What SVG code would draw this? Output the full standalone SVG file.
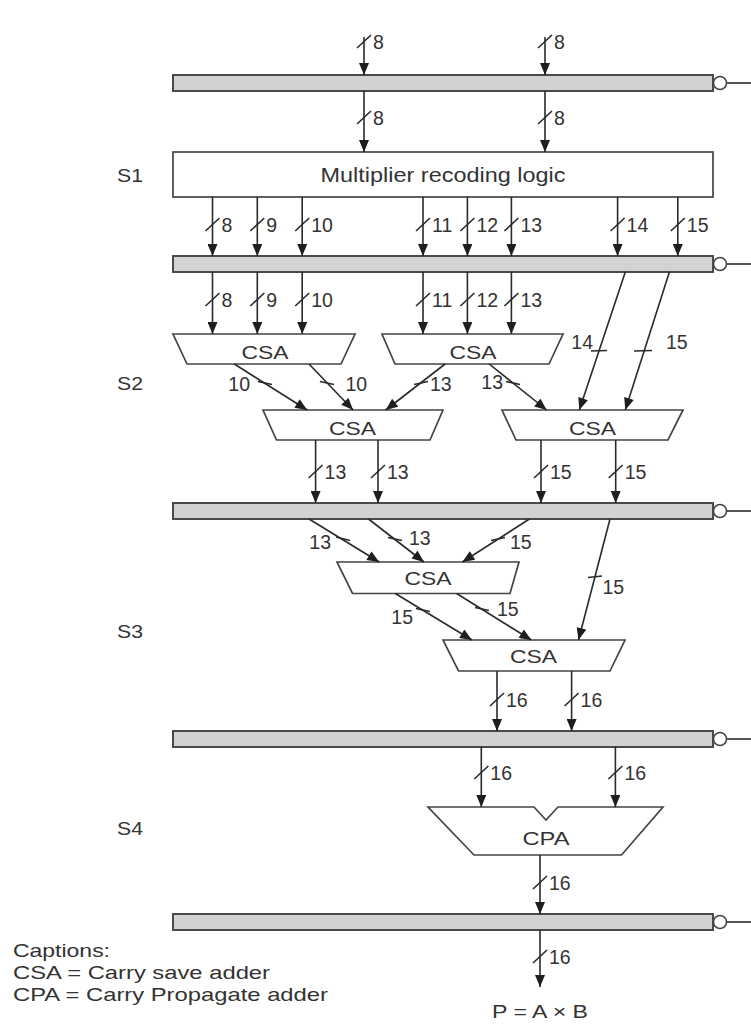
<svg xmlns="http://www.w3.org/2000/svg" width="751" height="1026" viewBox="0 0 751 1026">
<style>
.bar{fill:#d2d2d2;stroke:#4a4a4a;stroke-width:2}
.box{fill:#fff;stroke:#444;stroke-width:1.7}
.ring{fill:#fff;stroke:#444;stroke-width:1.5}
.w{stroke:#2a2a2a;stroke-width:1.6;fill:none}
.a{marker-end:url(#ah)}
.t{font-family:"Liberation Sans",Arial,sans-serif;fill:#333}
.n{font-size:19.5px}
.e{text-anchor:end}
.m{text-anchor:middle;font-size:19px}
</style>
<defs>
<marker id="ah" viewBox="0 0 12 10" refX="12" refY="5" markerWidth="13" markerHeight="10" markerUnits="userSpaceOnUse" orient="auto"><path d="M0,0L12,5L0,10z" fill="#1e1e1e"/></marker>
</defs>
<rect width="751" height="1026" fill="#fff"/>

<g id="reg1"><rect class="bar" x="173" y="75" width="540" height="16"/><line class="w" x1="726.5" y1="83" x2="751" y2="83"/><circle class="ring" cx="720" cy="83" r="6.5"/></g>
<g id="reg2"><rect class="bar" x="173" y="256" width="540" height="16"/><line class="w" x1="726.5" y1="264" x2="751" y2="264"/><circle class="ring" cx="720" cy="264" r="6.5"/></g>
<g id="reg3"><rect class="bar" x="173" y="503" width="540" height="16"/><line class="w" x1="726.5" y1="511" x2="751" y2="511"/><circle class="ring" cx="720" cy="511" r="6.5"/></g>
<g id="reg4"><rect class="bar" x="173" y="731" width="540" height="16"/><line class="w" x1="726.5" y1="739" x2="751" y2="739"/><circle class="ring" cx="720" cy="739" r="6.5"/></g>
<g id="reg5"><rect class="bar" x="173" y="914" width="540" height="16"/><line class="w" x1="726.5" y1="922" x2="751" y2="922"/><circle class="ring" cx="720" cy="922" r="6.5"/></g>

<g id="recoder"><rect class="box" x="173" y="152" width="540" height="45"/><text class="t" x="443" y="182" font-size="21" text-anchor="middle" textLength="245" lengthAdjust="spacingAndGlyphs">Multiplier recoding logic</text></g>

<g id="csa1"><polygon class="box" points="173,334 355,334 341,364 187,364"/><text class="t m" x="265" y="358.5" textLength="47" lengthAdjust="spacingAndGlyphs">CSA</text></g>
<g id="csa2"><polygon class="box" points="382,334 563,334 549,364 395,364"/><text class="t m" x="473" y="358.5" textLength="47" lengthAdjust="spacingAndGlyphs">CSA</text></g>
<g id="csa3"><polygon class="box" points="263,410 443,410 430,440 276.5,440"/><text class="t m" x="352.5" y="434.5" textLength="47" lengthAdjust="spacingAndGlyphs">CSA</text></g>
<g id="csa4"><polygon class="box" points="502,410 683,410 668,440 516,440"/><text class="t m" x="592.5" y="434.5" textLength="47" lengthAdjust="spacingAndGlyphs">CSA</text></g>
<g id="csa5"><polygon class="box" points="337,562 519,562 510,593.5 352.5,593.5"/><text class="t m" x="428" y="585" textLength="47" lengthAdjust="spacingAndGlyphs">CSA</text></g>
<g id="csa6"><polygon class="box" points="443,640 625,640 610,671 458.5,671"/><text class="t m" x="533.5" y="662.5" textLength="47" lengthAdjust="spacingAndGlyphs">CSA</text></g>
<g id="cpa"><polygon class="box" points="428,807 534,807 546,820 558,807 663,807 621.5,855 474,855"/><text class="t m" x="546" y="845" textLength="47" lengthAdjust="spacingAndGlyphs">CPA</text></g>

<g id="stages" class="t" font-size="19">
<text x="117" y="182" textLength="26" lengthAdjust="spacingAndGlyphs">S1</text>
<text x="117" y="390" textLength="26" lengthAdjust="spacingAndGlyphs">S2</text>
<text x="117" y="638" textLength="26" lengthAdjust="spacingAndGlyphs">S3</text>
<text x="117" y="835" textLength="26" lengthAdjust="spacingAndGlyphs">S4</text>
</g>

<g id="captions" class="t" font-size="18.5">
<text x="13" y="957" textLength="97" lengthAdjust="spacingAndGlyphs">Captions:</text>
<text x="13" y="979" textLength="257" lengthAdjust="spacingAndGlyphs">CSA = Carry save adder</text>
<text x="13" y="1001" textLength="315" lengthAdjust="spacingAndGlyphs">CPA = Carry Propagate adder</text>
</g>

<g id="product"><text class="t" x="540" y="1018" font-size="19" text-anchor="middle" textLength="96" lengthAdjust="spacingAndGlyphs">P = A × B</text></g>

<g id="connectors">
<g class="w a">
<line x1="364" y1="37" x2="364" y2="75"/><line x1="545" y1="37" x2="545" y2="75"/>
<line x1="364" y1="91" x2="364" y2="152"/><line x1="545" y1="91" x2="545" y2="152"/>
<line x1="212.5" y1="197" x2="212.5" y2="256"/><line x1="257.3" y1="197" x2="257.3" y2="256"/><line x1="302.2" y1="197" x2="302.2" y2="256"/>
<line x1="423" y1="197" x2="423" y2="256"/><line x1="467.4" y1="197" x2="467.4" y2="256"/><line x1="511.4" y1="197" x2="511.4" y2="256"/>
<line x1="617.6" y1="197" x2="617.6" y2="256"/><line x1="677.8" y1="197" x2="677.8" y2="256"/>
<line x1="212.5" y1="272" x2="212.5" y2="334"/><line x1="257.3" y1="272" x2="257.3" y2="334"/><line x1="302.2" y1="272" x2="302.2" y2="334"/>
<line x1="423" y1="272" x2="423" y2="334"/><line x1="467.4" y1="272" x2="467.4" y2="334"/><line x1="511.4" y1="272" x2="511.4" y2="334"/>
<line x1="625.3" y1="272" x2="579.3" y2="410"/><line x1="669.4" y1="272" x2="625.3" y2="410"/>
<line x1="234.3" y1="364" x2="307.2" y2="410"/><line x1="309" y1="364" x2="353.1" y2="410"/>
<line x1="445.1" y1="364" x2="385.7" y2="410"/><line x1="489.2" y1="364" x2="546.7" y2="410"/>
<line x1="315.6" y1="440" x2="315.6" y2="503"/><line x1="378" y1="440" x2="378" y2="503"/>
<line x1="541" y1="440" x2="541" y2="503"/><line x1="615.7" y1="440" x2="615.7" y2="503"/>
<line x1="309" y1="519" x2="379.2" y2="562"/><line x1="368.5" y1="519" x2="424" y2="562"/>
<line x1="529.4" y1="519" x2="462.4" y2="562"/><line x1="610" y1="519" x2="578.5" y2="640"/>
<line x1="395.3" y1="593.5" x2="472" y2="640"/><line x1="456.6" y1="593.5" x2="531.4" y2="640"/>
<line x1="497" y1="671" x2="497" y2="731"/><line x1="571.6" y1="671" x2="571.6" y2="731"/>
<line x1="481.3" y1="747" x2="481.3" y2="807"/><line x1="615.4" y1="747" x2="615.4" y2="807"/>
<line x1="540" y1="855" x2="540" y2="914"/>
<line x1="540" y1="930" x2="540" y2="987"/>
</g>
<g class="w">
<path d="M357,48L371,35M538,48L552,35"/>
<path d="M357,124L371,111M538,124L552,111"/>
<path d="M205.5,231L219.5,218M250.3,231L264.3,218M295.2,231L309.2,218M416,231L430,218M460.4,231L474.4,218M504.4,231L518.4,218M610.6,231L624.6,218M670.8,231L684.8,218"/>
<path d="M205.5,306L219.5,293M250.3,306L264.3,293M295.2,306L309.2,293M416,306L430,293M460.4,306L474.4,293M504.4,306L518.4,293"/>
<path d="M591,351L607,350.5M634,351L652,350.5"/>
<path d="M258,381.5L272,384.5M320,381.5L334,384.5M414,384.5L428,381.5M506,381.5L520,384.5"/>
<path d="M308.6,478L322.6,465M371,478L385,465M534,478L548,465M608.7,478L622.7,465"/>
<path d="M336,537L350,540.5M388,537.5L402,540.5M491,540.5L505,537.5M588,577.5L602,576"/>
<path d="M416,608.5L430,611.5M475,607.5L489,610.5"/>
<path d="M490,706L504,693M564.6,706L578.6,693"/>
<path d="M474.3,779L488.3,766M608.4,779L622.4,766"/>
<path d="M533,889L547,876"/>
<path d="M533,963L547,950"/>
</g>
<g class="t n">
<text x="373" y="49">8</text><text x="554" y="49">8</text>
<text x="373" y="125">8</text><text x="554" y="125">8</text>
<text x="221.5" y="232">8</text><text x="266.3" y="232">9</text><text x="311.2" y="232">10</text><text x="432" y="232">11</text><text x="476.4" y="232">12</text><text x="520.4" y="232">13</text><text x="626.6" y="232">14</text><text x="686.8" y="232">15</text>
<text x="221.5" y="307">8</text><text x="266.3" y="307">9</text><text x="311.2" y="307">10</text><text x="432" y="307">11</text><text x="476.4" y="307">12</text><text x="520.4" y="307">13</text>
<text class="e" x="593" y="349">14</text><text x="666" y="349">15</text>
<text class="e" x="250" y="391">10</text><text x="345.5" y="391">10</text><text x="430" y="391">13</text><text class="e" x="503" y="389">13</text>
<text x="324.6" y="479">13</text><text x="387" y="479">13</text><text x="550" y="479">15</text><text x="624.7" y="479">15</text>
<text class="e" x="331" y="548.5">13</text><text x="409" y="544.5">13</text><text x="510" y="548.5">15</text><text x="602.5" y="593.5">15</text>
<text class="e" x="413" y="623.5">15</text><text x="497" y="615.5">15</text>
<text x="506" y="707">16</text><text x="580.6" y="707">16</text>
<text x="490.3" y="780">16</text><text x="624.4" y="780">16</text>
<text x="549" y="890">16</text>
<text x="549" y="964">16</text>
</g>
</g>
</svg>
